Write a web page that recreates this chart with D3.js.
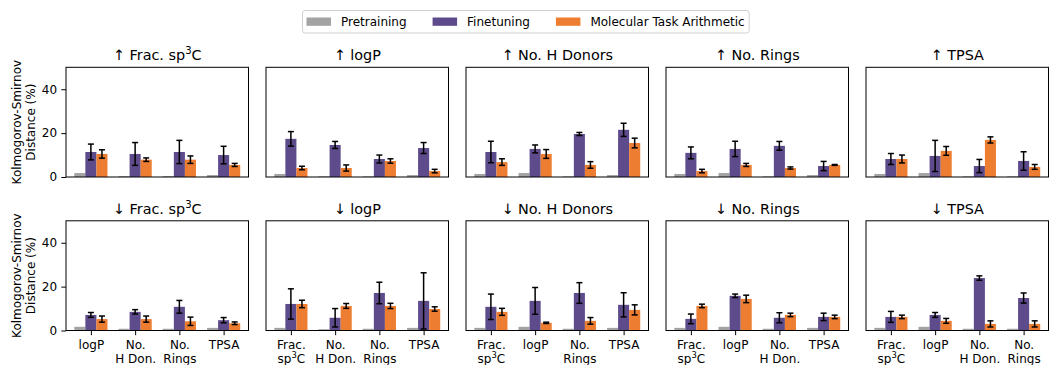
<!DOCTYPE html>
<html>
<head>
<meta charset="utf-8">
<script src="https://cdn.jsdelivr.net/npm/d3@7"></script>
<style>
  body { margin: 0; background: #fff; }
  text { font-family: "DejaVu Sans", sans-serif; fill: #000; }
</style>
</head>
<body>
<svg id="chart" width="1049" height="365"></svg>
<script>
// Steered property per panel column, and the shifts drawn in each row
const properties = ["Frac. sp³C", "logP", "No. H Donors", "No. Rings", "TPSA"];
const directions = ["↑", "↓"];
// Short tick labels for each property (same order as properties)
const tickLabels = ["Frac.\nsp³C", "logP", "No.\nH Don.", "No.\nRings", "TPSA"];
const seriesNames = ["Pretraining", "Finetuning", "Molecular Task Arithmetic"];
const yTicks = [0, 20, 40];

// Kolmogorov-Smirnov distance (%) on the four non-steered properties, ↑ row
const pretrainUp = [
  [1.8, 0.4, 0.4, 0.9],
  [1.4, 0.3, 0.3, 0.9],
  [1.4, 1.8, 0.3, 0.9],
  [1.4, 1.8, 0.3, 0.9],
  [1.4, 1.8, 0.3, 0.3]
];
const finetuneUp = [
  [11.4, 10.5, 11.4, 10.0],
  [17.4, 14.6, 8.2, 13.2],
  [11.4, 12.8, 19.6, 21.5],
  [11.0, 12.8, 14.2, 5.0],
  [8.2, 9.6, 5.0, 7.3]
];
const finetuneUpErr = [
  [3.6, 5.2, 5.3, 4.0],
  [3.3, 1.6, 1.8, 2.5],
  [4.9, 1.8, 0.7, 3.0],
  [2.7, 3.5, 2.0, 2.1],
  [2.5, 7.1, 3.0, 4.2]
];
const mtaUp = [
  [10.5, 7.9, 7.9, 5.5],
  [4.1, 4.1, 7.3, 2.7],
  [6.8, 10.5, 5.5, 15.5],
  [2.7, 5.5, 4.1, 5.5],
  [8.2, 11.9, 16.9, 4.6]
];
const mtaUpErr = [
  [1.9, 0.8, 1.7, 0.7],
  [0.8, 1.4, 1.0, 0.8],
  [1.5, 2.0, 1.5, 2.2],
  [0.8, 0.7, 0.5, 0.2],
  [1.8, 2.0, 1.4, 1.1]
];

// Same measures, ↓ row
const pretrainDown = [
  [1.7, 0.8, 0.8, 1.2],
  [1.2, 0.6, 0.8, 1.2],
  [1.2, 1.7, 0.8, 1.2],
  [1.2, 1.7, 0.8, 1.2],
  [1.2, 1.7, 0.8, 0.8]
];
const finetuneDown = [
  [7.1, 8.5, 10.8, 4.7],
  [12.1, 5.8, 17.1, 13.5],
  [10.8, 13.5, 17.1, 11.7],
  [5.3, 15.8, 5.8, 6.2],
  [6.2, 7.1, 23.9, 14.8]
];
const finetuneDownErr = [
  [1.1, 1.0, 2.9, 1.2],
  [6.9, 4.2, 4.9, 12.8],
  [5.8, 6.1, 4.7, 5.5],
  [2.2, 0.8, 2.3, 1.7],
  [2.5, 1.1, 1.0, 2.3]
];
const mtaDown = [
  [5.2, 5.2, 4.2, 3.3],
  [12.1, 11.2, 11.2, 9.8],
  [8.5, 3.5, 4.4, 9.4],
  [11.2, 14.4, 7.1, 6.2],
  [6.2, 4.4, 3.0, 3.0]
];
const mtaDownErr = [
  [1.4, 1.4, 1.9, 0.6],
  [1.7, 1.1, 1.2, 1.0],
  [1.6, 0.3, 1.5, 2.3],
  [0.8, 1.7, 0.8, 0.8],
  [0.8, 1.1, 1.4, 1.4]
];

const colors = ["#a3a3a3", "#5e4b8b", "#ed7d31"];

const rows = [
  { pre: pretrainUp, ft: finetuneUp, ftErr: finetuneUpErr, mta: mtaUp, mtaErr: mtaUpErr },
  { pre: pretrainDown, ft: finetuneDown, ftErr: finetuneDownErr, mta: mtaDown, mtaErr: mtaDownErr }
];

// Layout
const panelW = 182.5, panelH = 109.7;
const colLeft = c => 66 + c * 200;
const rowTop = [67.3, 220.8];
const barW = 0.25;

const svg = d3.select("#chart");

// Writes a string into a text element, raising any "³" as a superscript
function richText(sel, str, fs) {
  const parts = str.split("³");
  sel.append("tspan").text(parts[0]);
  for (let i = 1; i < parts.length; i++) {
    sel.append("tspan").attr("dy", -fs * 0.4).attr("font-size", fs * 0.7).text("3");
    sel.append("tspan").attr("dy", fs * 0.4).attr("font-size", fs).text(parts[i]);
  }
}

const x = d3.scaleLinear().domain([-0.5625, 3.5625]).range([0, panelW]);
const y = d3.scaleLinear().domain([0, 50]).range([panelH, 0]);

rows.forEach((row, r) => {
  properties.forEach((prop, c) => {
    const others = d3.range(5).filter(k => k !== c);
    const g = svg.append("g").attr("transform", `translate(${colLeft(c)},${rowTop[r]})`);

    // Bars: three series side by side within each group
    const series = [row.pre[c], row.ft[c], row.mta[c]];
    const errs = [null, row.ftErr[c], row.mtaErr[c]];
    series.forEach((vals, s) => {
      g.append("g").selectAll("rect").data(vals).join("rect")
        .attr("x", (d, i) => x(i + (s - 1) * barW - barW / 2))
        .attr("width", x(barW) - x(0))
        .attr("y", d => y(d))
        .attr("height", d => y(0) - y(d))
        .attr("fill", colors[s]);
    });

    // Error bars with caps
    [1, 2].forEach(s => {
      const eg = g.append("g").attr("stroke", "#000").attr("stroke-width", 1.5);
      series[s].forEach((v, i) => {
        const cx = x(i + (s - 1) * barW);
        const lo = y(v - errs[s][i]), hi = y(v + errs[s][i]);
        eg.append("line").attr("x1", cx).attr("x2", cx).attr("y1", lo).attr("y2", hi);
        eg.append("line").attr("x1", cx - 3).attr("x2", cx + 3).attr("y1", lo).attr("y2", lo);
        eg.append("line").attr("x1", cx - 3).attr("x2", cx + 3).attr("y1", hi).attr("y2", hi);
      });
    });

    // Y axis on the first column only
    if (c === 0) {
      const ya = g.append("g").call(d3.axisLeft(y).tickValues(yTicks).tickSize(4.7).tickPadding(4.2));
      ya.select(".domain").remove();
      ya.selectAll("line").attr("stroke", "#000").attr("stroke-width", 1);
      ya.selectAll("text").attr("font-size", 12).attr("font-family", "DejaVu Sans");
    }

    // X axis with category labels on the bottom row
    if (r === 1) {
      const xa = g.append("g").attr("transform", `translate(0,${panelH})`)
        .call(d3.axisBottom(x).tickValues([0, 1, 2, 3]).tickSize(4.7).tickFormat(() => ""));
      xa.select(".domain").remove();
      xa.selectAll("line").attr("stroke", "#000").attr("stroke-width", 1);
      xa.selectAll(".tick").each(function (d) {
        const lines = tickLabels[others[d]].split("\n");
        const tick = d3.select(this);
        tick.selectAll("text").remove();
        lines.forEach((ln, li) => {
          const t = tick.append("text").attr("text-anchor", "middle")
            .attr("y", 18.3 + li * 14.2).attr("font-size", 12);
          richText(t, ln, 12);
        });
      });
    }

    // Frame
    g.append("rect").attr("x", 0).attr("y", 0).attr("width", panelW).attr("height", panelH)
      .attr("fill", "none").attr("stroke", "#000").attr("stroke-width", 1);

    // Title
    const title = g.append("text").attr("x", panelW / 2).attr("y", -7.3)
      .attr("text-anchor", "middle").attr("font-size", 14.4);
    richText(title, directions[r] + " " + prop, 14.4);
  });

  // Row y label
  const yc = rowTop[r] + panelH / 2;
  const yl = svg.append("text").attr("transform", `translate(20.7,${yc}) rotate(-90)`)
    .attr("text-anchor", "middle").attr("font-size", 12);
  yl.append("tspan").attr("x", 0).text("Kolmogorov-Smirnov");
  yl.append("tspan").attr("x", 0).attr("dy", 14.3).text("Distance (%)");
});

// Legend
const legend = svg.append("g");
const frame = legend.append("rect").attr("y", 10.5).attr("height", 22.5).attr("rx", 2.5)
  .attr("fill", "#fff").attr("stroke", "#d0d0d0").attr("stroke-width", 1);
let lx = 306.5;
seriesNames.forEach((name, i) => {
  legend.append("rect").attr("x", lx).attr("y", 17.5).attr("width", 24.5).attr("height", 8.3)
    .attr("fill", colors[i]);
  const t = legend.append("text").attr("x", lx + 34.5).attr("y", 26).attr("font-size", 12).text(name);
  lx += 34.5 + t.node().getComputedTextLength() + 26;
});
frame.attr("x", 302.5).attr("width", lx - 26 + 4.5 - 302.5);
</script>
</body>
</html>
